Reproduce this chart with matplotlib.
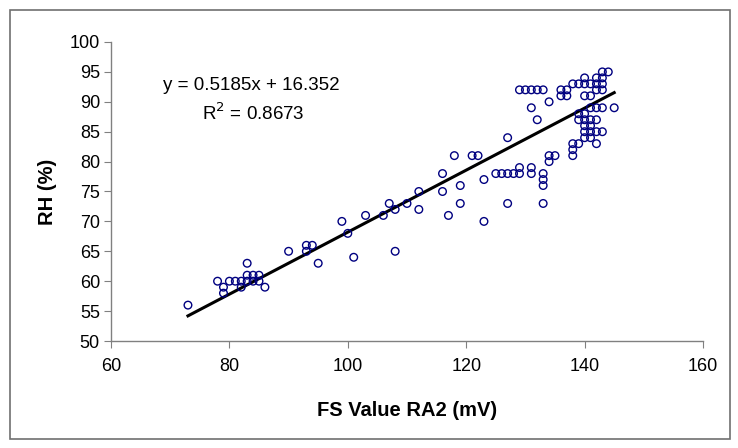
import matplotlib
matplotlib.use("Agg")
import matplotlib.pyplot as plt
from matplotlib.patches import Rectangle

plt.rcParams['font.family'] = ['Liberation Sans', 'DejaVu Sans']

fs_value = [73,
            78, 79, 79, 80, 81, 82, 82, 83, 83, 83, 84, 84, 85, 85, 86,
            90, 93, 93, 94, 95,
            99, 100, 101, 103, 106, 107, 108, 108, 110, 112, 112,
            116, 116, 117, 118, 119, 119, 121, 122, 123, 123,
            125, 126, 127, 128, 127, 127, 129, 129, 131, 131, 133, 133, 133, 133, 134, 134, 135,
            129, 130, 131, 132, 133, 131, 132, 134,
            136, 136, 137, 137, 138, 139, 140, 140, 140, 141, 141, 142, 142, 142, 143, 144, 143, 143, 143, 142, 143, 145, 141,
            138, 138, 138, 139, 139, 139, 140, 140, 140, 140, 140, 141, 141, 141, 141, 142, 142, 142, 143]
rh = [56,
      60, 59, 58, 60, 60, 60, 59, 61, 60, 63, 61, 60, 61, 60, 59,
      65, 66, 65, 66, 63,
      70, 68, 64, 71, 71, 73, 72, 65, 73, 75, 72,
      78, 75, 71, 81, 76, 73, 81, 81, 77, 70,
      78, 78, 78, 78, 84, 73, 79, 78, 79, 78, 78, 77, 76, 73, 81, 80, 81,
      92, 92, 92, 92, 92, 89, 87, 90,
      92, 91, 92, 91, 93, 93, 94, 93, 91, 93, 91, 94, 93, 92, 95, 95, 94, 93, 92, 89, 89, 89, 89,
      83, 82, 81, 83, 88, 87, 88, 87, 86, 85, 84, 87, 86, 85, 84, 87, 85, 83, 85]

slope = 0.5185
intercept = 16.352
fit_x = [73, 145]
equation = "y = 0.5185x + 16.352"
r2_text = "R$^2$ = 0.8673"
x_ticks = [60, 80, 100, 120, 140, 160]
y_ticks = [50, 55, 60, 65, 70, 75, 80, 85, 90, 95, 100]

fig = plt.figure(figsize=(7.38, 4.48), dpi=100)
fig.patches.append(Rectangle((10/738, 1-439/448), 720/738, 429/448, transform=fig.transFigure,
                             fill=False, edgecolor='#707070', linewidth=1.2))
ax = fig.add_axes([111/738, 1-341/448, 592/738, 299/448])

ax.scatter(fs_value, rh, s=30, facecolors='none', edgecolors='#000080', linewidths=1.0, zorder=3)
ax.plot(fit_x, [slope*v + intercept for v in fit_x], color='black', linewidth=2.2, zorder=2)

ax.set_xlim(60, 160)
ax.set_ylim(50, 100)
ax.set_xticks(x_ticks)
ax.set_yticks(y_ticks)
for s in ['top', 'right']:
    ax.spines[s].set_visible(False)
for s in ['left', 'bottom']:
    ax.spines[s].set_color('#808080')
    ax.spines[s].set_linewidth(1.0)
ax.tick_params(axis='both', direction='out', length=5, color='#808080', labelsize=13)
ax.tick_params(axis='x', pad=7)
ax.tick_params(axis='y', pad=3)

ax.set_xlabel("FS Value RA2 (mV)", fontsize=14.5, fontweight='bold', labelpad=19)
ax.set_ylabel("RH (%)", fontsize=14.5, fontweight='bold', labelpad=9)

ax.text(251/738, 1-86/448, equation, transform=fig.transFigure, ha='center', va='center', fontsize=13.5)
ax.text(253/738, 1-113/448, r2_text, transform=fig.transFigure, ha='center', va='center', fontsize=13.5)

fig.savefig("out.png", dpi=100)
